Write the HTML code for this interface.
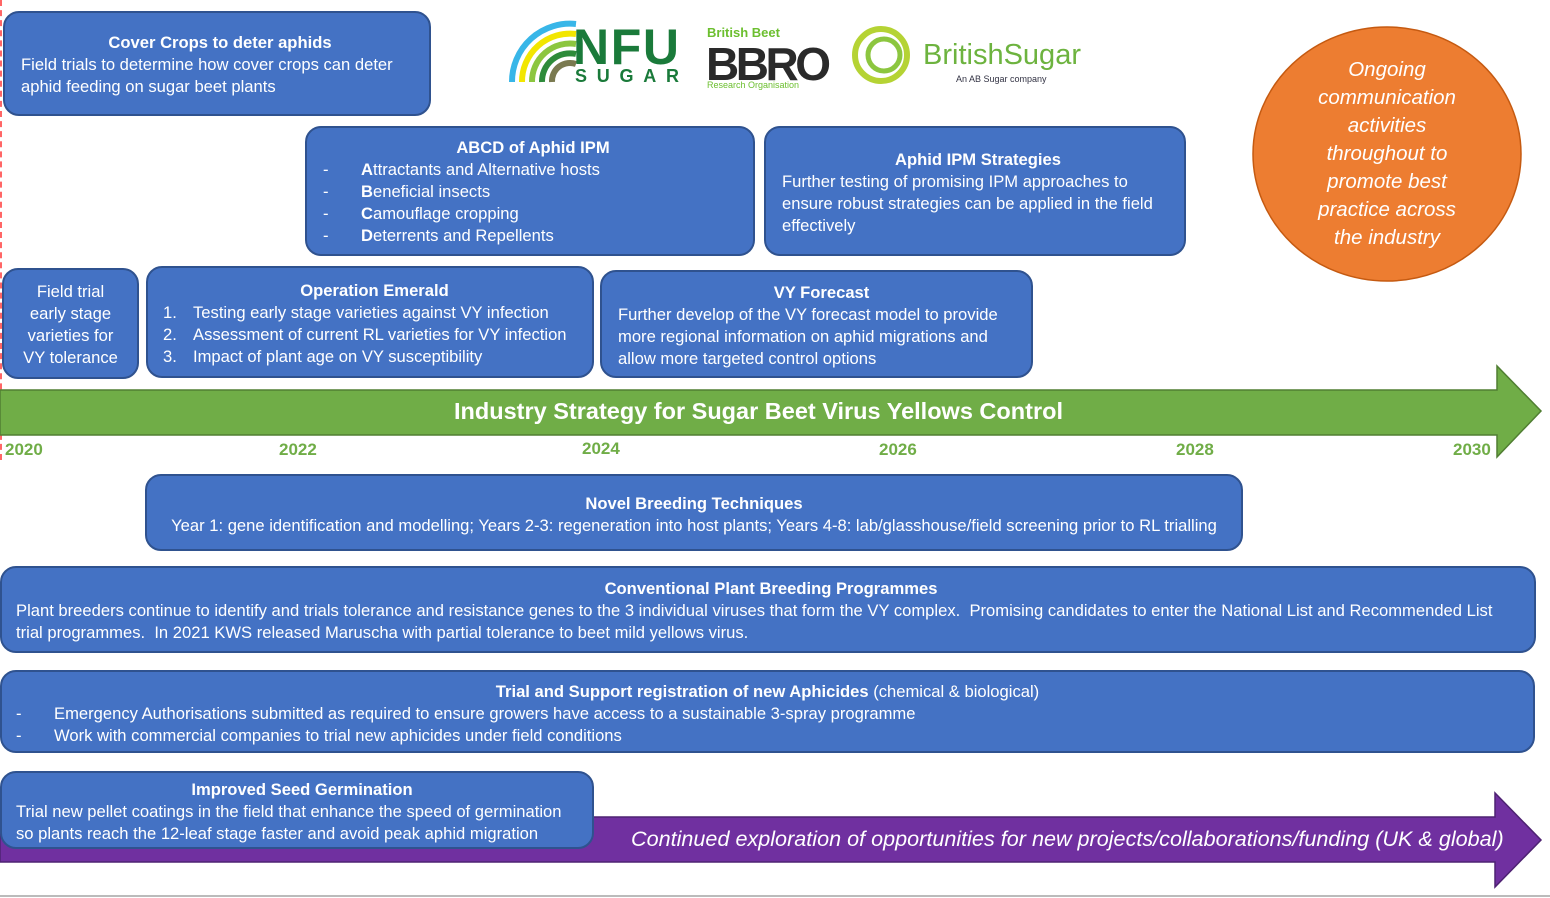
<!DOCTYPE html>
<html><head><meta charset="utf-8"><style>
body{margin:0;width:1550px;height:898px;position:relative;background:#fff;font-family:"Liberation Sans",sans-serif;overflow:hidden}
.b{position:absolute;background:#4472C4;border:2px solid #2F528F;border-radius:16px;color:#fff;font-size:16.6px;line-height:22px;box-sizing:border-box;white-space:nowrap}
.t{font-weight:bold;text-align:center;display:block}
.yr{position:absolute;top:440px;color:#70AD47;font-weight:bold;font-size:17px}
.li{display:flex}.li span:first-child{width:38px;flex:none}
</style></head><body>
<div style="position:absolute;left:0;top:0;width:2px;height:460px;border-left:2px dashed #f66"></div>
<svg style="position:absolute;left:0;top:0" width="1550" height="898">
<polygon points="0,390 1497,390 1497,366 1541,411 1497,457 1497,435 0,435" fill="#70AD47" stroke="#507E32" stroke-width="1.5"/>
<polygon points="0,817 1495,817 1495,793 1541,840 1495,887 1495,862 0,862" fill="#7030A0" stroke="#4E2272" stroke-width="1.5"/>
<line x1="0" y1="896" x2="1550" y2="896" stroke="#bbb" stroke-width="2"/>
<ellipse cx="1387" cy="154" rx="134" ry="127" fill="#ED7D31" stroke="#C55A11" stroke-width="1.5"/>
<path d="M512,82 A58,58 0 0 1 576,24" stroke="#38b6e8" stroke-width="6" fill="none"/>
<path d="M522,82 A48,48 0 0 1 576,34" stroke="#f2e600" stroke-width="6" fill="none"/>
<path d="M532,82 A38,38 0 0 1 576,44" stroke="#8cc63f" stroke-width="6" fill="none"/>
<path d="M542,82 A28,28 0 0 1 576,54" stroke="#2e8b3a" stroke-width="6" fill="none"/>
<path d="M552,82 A18,18 0 0 1 576,64" stroke="#7a7a50" stroke-width="6" fill="none"/>
<text x="573" y="64" font-family="Liberation Sans" font-weight="bold" font-size="50" fill="#1a7a3a" textLength="106">NFU</text>
<text x="575" y="82" font-family="Liberation Sans" font-weight="bold" font-size="18" fill="#1a7a3a" textLength="104">SUGAR</text>
<text x="707" y="37" font-family="Liberation Sans" font-weight="bold" font-size="13" fill="#6cbf2f">British Beet</text>
<text x="706" y="80" font-family="Liberation Sans" font-weight="bold" font-size="46" fill="#2a2a2a" textLength="125">BBRO</text>
<text x="707" y="88" font-family="Liberation Sans" font-size="9" fill="#6cbf2f">Research Organisation</text>
<circle cx="881" cy="55" r="26" fill="none" stroke="#b5d334" stroke-width="6"/>
<circle cx="884" cy="55" r="16" fill="none" stroke="#8cc63f" stroke-width="5"/>
<text x="923" y="64" font-family="Liberation Sans" font-size="29" fill="#6db33f" textLength="158">BritishSugar</text>
<text x="956" y="82" font-family="Liberation Sans" font-size="9" fill="#334">An AB Sugar company</text>
</svg>
<div style="position:absolute;left:1270px;top:56px;width:234px;text-align:center;color:#fff;font-style:italic;font-size:20.5px;line-height:28px">Ongoing<br>communication<br>activities<br>throughout to<br>promote best<br>practice across<br>the industry</div>
<div style="position:absolute;left:0;top:398px;width:1517px;text-align:center;color:#fff;font-weight:bold;font-size:23.5px">Industry Strategy for Sugar Beet Virus Yellows Control</div>
<div style="position:absolute;left:631px;top:826px;color:#fff;font-style:italic;font-size:21.6px;white-space:nowrap">Continued exploration of opportunities for new projects/collaborations/funding (UK &amp; global)</div>
<div class="yr" style="left:5px">2020</div><div class="yr" style="left:279px">2022</div><div class="yr" style="left:582px;top:439px">2024</div><div class="yr" style="left:879px">2026</div><div class="yr" style="left:1176px">2028</div><div class="yr" style="left:1453px">2030</div>

<div class="b" style="left:3px;top:11px;width:428px;height:105px;padding:19px 10px 0 16px"><span class="t">Cover Crops to deter aphids</span>Field trials to determine how cover crops can deter<br>aphid feeding on sugar beet plants</div>
<div class="b" style="left:305px;top:126px;width:450px;height:130px;padding:9px 10px 0 16px"><span class="t">ABCD of Aphid IPM</span>
<div class="li"><span>-</span><span><b>A</b>ttractants and Alternative hosts</span></div>
<div class="li"><span>-</span><span><b>B</b>eneficial insects</span></div>
<div class="li"><span>-</span><span><b>C</b>amouflage cropping</span></div>
<div class="li"><span>-</span><span><b>D</b>eterrents and Repellents</span></div></div>
<div class="b" style="left:764px;top:126px;width:422px;height:130px;padding:21px 10px 0 16px"><span class="t">Aphid IPM Strategies</span>Further testing of promising IPM approaches to<br>ensure robust strategies can be applied in the field<br>effectively</div>
<div class="b" style="left:2px;top:268px;width:137px;height:111px;padding:11px 0 0;text-align:center">Field trial<br>early stage<br>varieties for<br>VY tolerance</div>
<div class="b" style="left:146px;top:266px;width:448px;height:112px;padding:12px 6px 0 15px"><span class="t">Operation Emerald</span>
<div class="li"><span style="width:30px">1.</span><span>Testing early stage varieties against VY infection</span></div>
<div class="li"><span style="width:30px">2.</span><span>Assessment of current RL varieties for VY infection</span></div>
<div class="li"><span style="width:30px">3.</span><span>Impact of plant age on VY susceptibility</span></div></div>
<div class="b" style="left:600px;top:270px;width:433px;height:108px;padding:10px 6px 0 16px"><span class="t">VY Forecast</span>Further develop of the VY forecast model to provide<br>more regional information on aphid migrations and<br>allow more targeted control options</div>
<div class="b" style="left:145px;top:474px;width:1098px;height:77px;padding:17px 0 0;text-align:center"><span class="t">Novel Breeding Techniques</span>Year 1: gene identification and modelling; Years 2-3: regeneration into host plants; Years 4-8: lab/glasshouse/field screening prior to RL trialling</div>
<div class="b" style="left:0;top:566px;width:1536px;height:87px;padding:10px 8px 0 14px"><span class="t">Conventional Plant Breeding Programmes</span>Plant breeders continue to identify and trials tolerance and resistance genes to the 3 individual viruses that form the VY complex.&nbsp; Promising candidates to enter the National List and Recommended List<br>trial programmes.&nbsp; In 2021 KWS released Maruscha with partial tolerance to beet mild yellows virus.</div>
<div class="b" style="left:0;top:670px;width:1535px;height:83px;padding:9px 14px 0 14px"><span style="display:block;text-align:center"><b>Trial and Support registration of new Aphicides</b> (chemical &amp; biological)</span>
<div class="li"><span>-</span><span>Emergency Authorisations submitted as required to ensure growers have access to a sustainable 3-spray programme</span></div>
<div class="li"><span>-</span><span>Work with commercial companies to trial new aphicides under field conditions</span></div></div>
<div class="b" style="left:0;top:771px;width:594px;height:78px;padding:6px 4px 0 14px"><span class="t">Improved Seed Germination</span>Trial new pellet coatings in the field that enhance the speed of germination<br>so plants reach the 12-leaf stage faster and avoid peak aphid migration</div>
</body></html>
